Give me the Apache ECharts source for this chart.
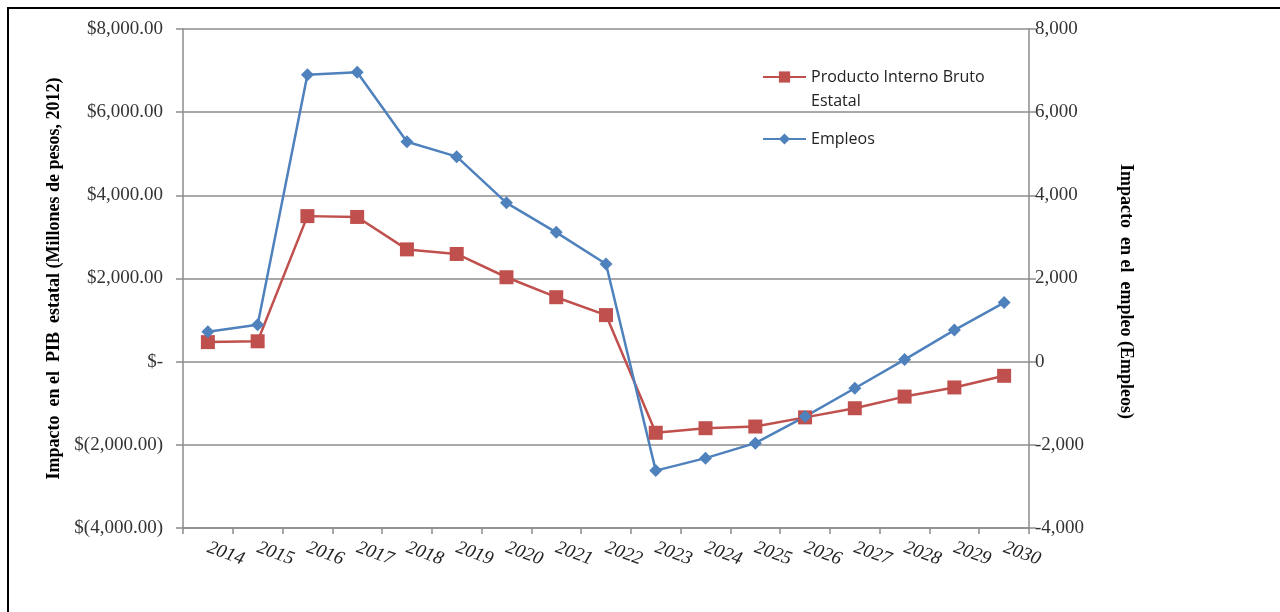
<!DOCTYPE html>
<html>
<head>
<meta charset="utf-8">
<script src="https://cdn.jsdelivr.net/npm/echarts@6/dist/echarts.min.js"></script>
<style>
  html, body { margin: 0; padding: 0; background: #fff; }
  #chart { width: 1280px; height: 612px; }
</style>
</head>
<body>
<div id="chart"></div>
<script>
var years = ['2014', '2015', '2016', '2017', '2018', '2019', '2020', '2021', '2022',
	'2023', '2024', '2025', '2026', '2027', '2028', '2029', '2030'];
// Impacto en el PIB estatal (millones de pesos, 2012)
var pibValues = [470, 490, 3500, 3480, 2700, 2590, 2030, 1550, 1120,
	-1710, -1600, -1560, -1340, -1120, -840, -620, -340];
// Impacto en el empleo (empleos)
var empleoValues = [720, 890, 6900, 6960, 5290, 4930, 3820, 3110, 2350,
	-2620, -2320, -1960, -1320, -640, 50, 760, 1420];

var pibName = 'Producto Interno Bruto Estatal';
var empleoName = 'Empleos';

var redColor = '#C0504D';
var blueColor = '#4F81BD';
var gridColor = '#8c8c8c';
var serif = '"Liberation Serif", "DejaVu Serif", serif';

function moneyLabel(v) {
	if (v === 0) return '$-';
	var s = Math.abs(v).toLocaleString('en-US', {minimumFractionDigits: 2, maximumFractionDigits: 2});
	return v < 0 ? '$(' + s + ')' : '$' + s;
}

var myChart = echarts.init(document.getElementById('chart'));

var option = {
	backgroundColor: '#fff',
	animation: false,
	graphic: [{
		type: 'rect',
		shape: { x: 8, y: 8, width: 1400, height: 700 },
		style: { fill: 'none', stroke: '#000', lineWidth: 2 }
	}],
	legend: {
		orient: 'vertical',
		left: 757,
		top: 36,
		itemWidth: 43,
		itemHeight: 14,
		itemGap: 14,
		data: [pibName, empleoName],
		// blank first line keeps the icon level with the first text line
		formatter: function(name) {
			return name === pibName ? '\nProducto Interno Bruto\nEstatal' : name;
		},
		textStyle: {
			fontFamily: '"Open Sans", "Liberation Sans", sans-serif',
			fontSize: 16,
			lineHeight: 24,
			color: '#222'
		}
	},
	grid: {
		left: 183,
		right: 251,
		top: 29,
		bottom: 84,
		containLabel: false
	},
	xAxis: {
		type: 'category',
		data: years,
		boundaryGap: true,
		axisLine: { onZero: false, lineStyle: { color: gridColor, width: 1.5 } },
		axisTick: { show: true, length: 6, lineStyle: { color: gridColor, width: 1.5 } },
		axisLabel: {
			rotate: -20,
			margin: 19,
			interval: 0,
			fontFamily: serif,
			fontStyle: 'italic',
			fontSize: 19,
			color: '#222'
		},
		splitLine: { show: false }
	},
	yAxis: [{
		type: 'value',
		min: -4000,
		max: 8000,
		interval: 2000,
		name: 'Impacto  en el  PIB  estatal (Millones de pesos, 2012)',
		nameLocation: 'middle',
		nameGap: 120,
		nameTextStyle: {
			fontFamily: serif,
			fontWeight: 'bold',
			fontSize: 18,
			color: '#000'
		},
		axisLine: { show: true, lineStyle: { color: gridColor, width: 1.5 } },
		axisTick: { show: true, length: 7, lineStyle: { color: gridColor, width: 1.5 } },
		axisLabel: {
			margin: 20,
			formatter: moneyLabel,
			fontFamily: serif,
			fontSize: 19,
			color: '#333'
		},
		splitLine: { show: true, lineStyle: { color: gridColor, width: 1.5 } }
	}, {
		type: 'value',
		min: -4000,
		max: 8000,
		interval: 2000,
		position: 'right',
		name: 'Impacto  en el  empleo (Empleos)',
		nameLocation: 'middle',
		nameGap: 88,
		nameRotate: -90,
		nameTextStyle: {
			fontFamily: serif,
			fontWeight: 'bold',
			fontSize: 18,
			color: '#000',
			padding: [0, 0, 0, 26]
		},
		axisLine: { show: true, lineStyle: { color: gridColor, width: 1.5 } },
		axisTick: { show: true, length: 7, lineStyle: { color: gridColor, width: 1.5 } },
		axisLabel: {
			margin: 6,
			formatter: function(v) { return v.toLocaleString('en-US'); },
			fontFamily: serif,
			fontSize: 19,
			color: '#333'
		},
		splitLine: { show: false }
	}],
	series: [{
		name: pibName,
		type: 'line',
		yAxisIndex: 0,
		data: pibValues,
		symbol: 'rect',
		symbolSize: 14,
		color: redColor,
		lineStyle: { color: redColor, width: 2.5 },
		itemStyle: { color: redColor }
	}, {
		name: empleoName,
		type: 'line',
		yAxisIndex: 1,
		data: empleoValues,
		symbol: 'diamond',
		symbolSize: 13,
		color: blueColor,
		lineStyle: { color: blueColor, width: 2.5 },
		itemStyle: { color: blueColor }
	}]
};

myChart.setOption(option);
</script>
</body>
</html>
